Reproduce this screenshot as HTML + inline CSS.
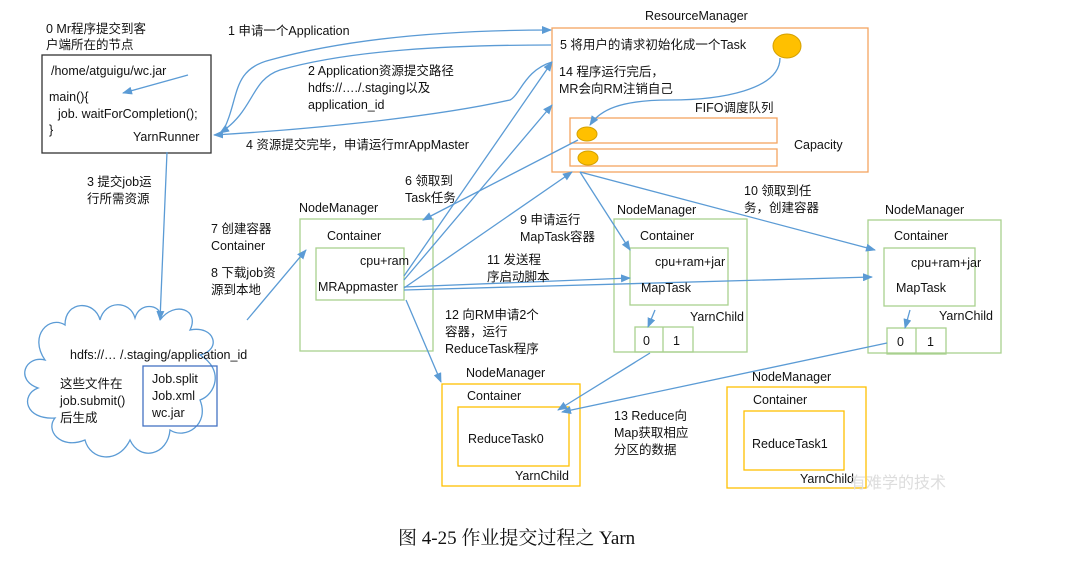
<!DOCTYPE html>
<html><head><meta charset="utf-8"><style>
html,body{margin:0;padding:0;background:#fff;width:1075px;height:561px;overflow:hidden}
svg text{font-family:"Liberation Sans","Noto Sans CJK SC",sans-serif;font-size:12.5px;fill:#111}
</style></head><body>
<svg width="1075" height="561" viewBox="0 0 1075 561" xmlns="http://www.w3.org/2000/svg">
<defs><marker id="a" markerWidth="10" markerHeight="8" refX="9" refY="4" orient="auto" markerUnits="userSpaceOnUse"><path d="M0,0 L10,4 L0,8 Z" fill="#5b9bd5"/></marker></defs>
<g fill="none" stroke-width="1.3">
<rect x="42" y="55" width="169" height="98" stroke="#333"/>
<rect x="552" y="28" width="316" height="144" stroke="#f4a460"/>
<rect x="570" y="118" width="207" height="25" stroke="#f4a460"/>
<rect x="570" y="149" width="207" height="17" stroke="#f4a460"/>
<rect x="300" y="219" width="133" height="132" stroke="#a9d18e"/>
<rect x="316" y="248" width="88" height="52" stroke="#a9d18e"/>
<rect x="614" y="219" width="133" height="133" stroke="#a9d18e"/>
<rect x="630" y="248" width="98" height="57" stroke="#a9d18e"/>
<rect x="635" y="327" width="58" height="25" stroke="#a9d18e"/><line x1="663" y1="327" x2="663" y2="352" stroke="#a9d18e"/>
<rect x="868" y="220" width="133" height="133" stroke="#a9d18e"/>
<rect x="884" y="248" width="91" height="58" stroke="#a9d18e"/>
<rect x="887" y="328" width="59" height="26" stroke="#a9d18e"/><line x1="916" y1="328" x2="916" y2="354" stroke="#a9d18e"/>
<rect x="442" y="384" width="138" height="102" stroke="#ffc000"/>
<rect x="458" y="407" width="111" height="59" stroke="#ffc000"/>
<rect x="727" y="387" width="139" height="101" stroke="#ffc000"/>
<rect x="744" y="411" width="100" height="59" stroke="#ffc000"/>
<path d="M45,360 C28,335 50,315 65,325 C65,300 95,300 100,320 C105,300 130,300 135,318 C140,300 165,305 160,320 C175,300 200,310 190,330 C215,325 222,350 200,355 C225,370 215,395 200,400 C210,425 185,440 170,430 C168,455 140,462 130,440 C118,465 90,460 85,440 C60,450 45,430 55,418 C25,420 20,395 38,388 C15,380 25,355 45,360 Z" stroke="#5b9bd5"/>
<rect x="143" y="366" width="74" height="60" stroke="#4472c4"/>
</g>
<ellipse cx="787" cy="46" rx="14" ry="12" fill="#ffc000" stroke="#d4a000"/>
<ellipse cx="587" cy="134" rx="10" ry="7" fill="#ffc000" stroke="#d4a000"/>
<ellipse cx="588" cy="158" rx="10" ry="7" fill="#ffc000" stroke="#d4a000"/>
<g fill="none" stroke="#5b9bd5" stroke-width="1.3" marker-end="url(#a)">
<path d="M188,75 L123,93"/>
<path d="M222,133 C240,100 230,70 270,60 C350,38 450,30 551,30"/>
<path d="M551,45 C450,45 350,50 280,70 C250,80 255,110 220,133"/>
<path d="M552,62 C525,70 520,95 510,100 C430,118 300,130 214,135"/>
<path d="M167,152 L160,320"/>
<path d="M247,320 L306,250"/>
<path d="M404,276 L552,62"/>
<path d="M404,280 L552,105"/>
<path d="M578,140 L423,220"/>
<path d="M780,58 C780,90 720,100 670,100 C620,100 600,110 590,125"/>
<path d="M404,288 L572,172"/>
<path d="M580,172 L630,250"/>
<path d="M580,172 L875,250"/>
<path d="M404,287 L630,278"/>
<path d="M404,290 L872,277"/>
<path d="M406,300 L441,382"/>
<path d="M655,310 L648,327"/>
<path d="M910,310 L905,328"/>
<path d="M650,353 L558,410"/>
<path d="M887,343 L562,412"/>
</g>
<text x="46" y="33">0 Mr程序提交到客</text><text x="46" y="49">户端所在的节点</text>
<text x="51" y="75">/home/atguigu/wc.jar</text>
<text x="49" y="101">main(){</text><text x="58" y="118">job. waitForCompletion();</text><text x="49" y="134">}</text>
<text x="133" y="141">YarnRunner</text>
<text x="228" y="35">1 申请一个Application</text>
<text x="308" y="75">2 Application资源提交路径</text><text x="308" y="92">hdfs://…./.staging以及</text><text x="308" y="109">application_id</text>
<text x="246" y="149">4 资源提交完毕，申请运行mrAppMaster</text>
<text x="87" y="186">3 提交job运</text><text x="87" y="203">行所需资源</text>
<text x="405" y="185">6 领取到</text><text x="405" y="202">Task任务</text>
<text x="299" y="212">NodeManager</text>
<text x="211" y="233">7 创建容器</text><text x="211" y="250">Container</text>
<text x="211" y="277">8 下载job资</text><text x="211" y="294">源到本地</text>
<text x="327" y="240">Container</text><text x="360" y="265">cpu+ram</text><text x="318" y="291">MRAppmaster</text>
<text x="645" y="20">ResourceManager</text>
<text x="560" y="49">5 将用户的请求初始化成一个Task</text>
<text x="559" y="76">14 程序运行完后，</text><text x="559" y="93">MR会向RM注销自己</text>
<text x="695" y="112">FIFO调度队列</text>
<text x="794" y="149">Capacity</text>
<text x="520" y="224">9 申请运行</text><text x="520" y="241">MapTask容器</text>
<text x="487" y="264">11 发送程</text><text x="487" y="281">序启动脚本</text>
<text x="617" y="214">NodeManager</text>
<text x="640" y="240">Container</text><text x="655" y="266">cpu+ram+jar</text><text x="641" y="292">MapTask</text>
<text x="690" y="321">YarnChild</text><text x="643" y="345">0</text><text x="673" y="345">1</text>
<text x="744" y="195">10 领取到任</text><text x="744" y="212">务，创建容器</text>
<text x="885" y="214">NodeManager</text>
<text x="894" y="240">Container</text><text x="911" y="267">cpu+ram+jar</text><text x="896" y="292">MapTask</text>
<text x="939" y="320">YarnChild</text><text x="897" y="346">0</text><text x="927" y="346">1</text>
<text x="445" y="319">12 向RM申请2个</text><text x="445" y="336">容器，运行</text><text x="445" y="353">ReduceTask程序</text>
<text x="466" y="377">NodeManager</text><text x="467" y="400">Container</text><text x="468" y="443">ReduceTask0</text><text x="515" y="480">YarnChild</text>
<text x="752" y="381">NodeManager</text><text x="753" y="404">Container</text><text x="752" y="448">ReduceTask1</text><text x="800" y="483">YarnChild</text>
<text x="614" y="420">13 Reduce向</text><text x="614" y="437">Map获取相应</text><text x="614" y="454">分区的数据</text>
<text x="70" y="359">hdfs://… /.staging/application_id</text>
<text x="60" y="388">这些文件在</text><text x="60" y="405">job.submit()</text><text x="60" y="422">后生成</text>
<text x="152" y="383">Job.split</text><text x="152" y="400">Job.xml</text><text x="152" y="417">wc.jar</text>
<text x="850" y="488" style="fill:#ddd;font-size:16px">有难学的技术</text>
<text x="398" y="544" style="font-family:'Liberation Serif','Noto Serif CJK SC',serif;font-size:19px">图 4-25  作业提交过程之 Yarn</text>
</svg>
</body></html>
